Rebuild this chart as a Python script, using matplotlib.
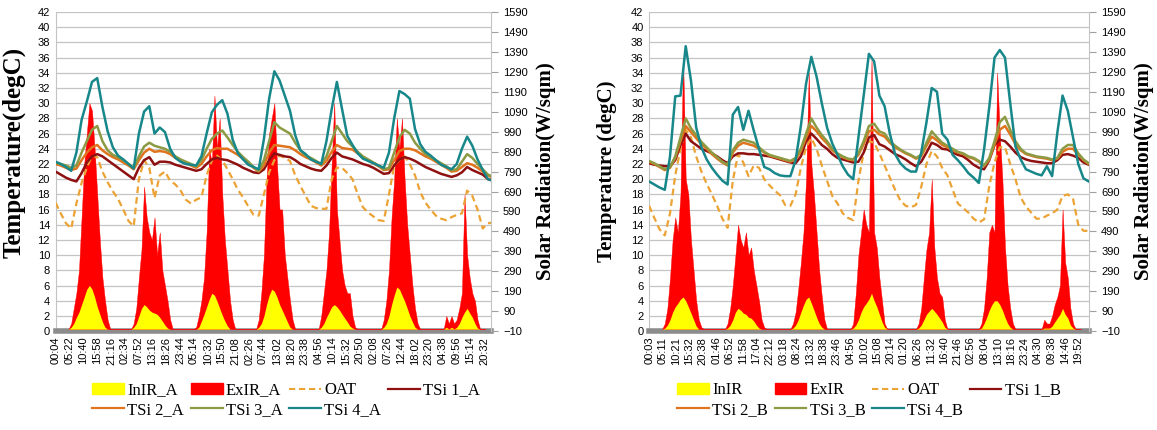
import matplotlib.pyplot as plt
import numpy as np
from matplotlib.patches import Patch
from matplotlib.lines import Line2D

# 2-hourly temperature readings, hour 0 .. 168
hours = np.arange(0, 170, 2)
# hourly solar readings in daytime, 05:00 .. 21:00
sun_hours = np.arange(5, 22)

# ---- Room A ----
oat_a = [16.9, 15.5, 14.2, 13.5, 16.8, 19.5, 21.5, 23.1, 22.9, 21.0, 19.6, 18.4,
         17.4, 16.0, 14.5, 13.8, 20.0, 22.5, 21.5, 17.5, 20.5, 21.0, 19.8, 19.3,
         18.5, 17.3, 16.8, 17.3, 17.6, 20.5, 22.5, 23.1, 22.5, 21.3, 20.0, 18.6,
         17.6, 16.4, 15.3, 15.2, 18.0, 20.9, 22.5, 23.1, 22.8, 22.4, 20.5, 19.1,
         17.8, 16.5, 16.2, 16.1, 16.1, 20.0, 21.5, 21.5, 20.8, 20.0, 18.0, 16.3,
         15.6, 15.1, 14.6, 14.5, 18.0, 21.8, 22.5, 23.0, 22.0, 20.5, 18.3, 16.9,
         16.0, 15.2, 14.8, 14.6, 15.0, 15.3, 15.5, 18.5, 17.8, 16.0, 13.5, 14.2, 14.3]
tsi1_a = [21.0, 20.6, 20.2, 19.9, 19.7, 20.8, 22.2, 23.0, 23.3, 23.0, 22.5, 22.0,
          21.5, 21.0, 20.5, 20.0, 21.5, 22.5, 22.9, 21.9, 22.3, 22.3, 22.2, 21.9,
          21.7, 21.5, 21.3, 21.1, 21.3, 22.0, 22.6, 22.8, 22.6, 22.5, 22.2, 21.9,
          21.5, 21.2, 20.9, 20.8, 21.3, 22.5, 23.4, 23.2, 23.0, 22.9, 22.5, 22.0,
          21.7, 21.4, 21.2, 21.1, 21.8, 22.8, 23.5, 23.0, 22.8, 22.6, 22.3, 22.0,
          21.8, 21.5, 21.1, 20.7, 20.8, 21.8, 22.6, 22.9, 22.7, 22.4, 22.0, 21.6,
          21.3, 21.0, 20.7, 20.5, 20.3, 20.5, 20.9, 21.6, 21.2, 20.9, 20.6, 20.0, 19.8]
tsi2_a = [22.0, 21.8, 21.5, 21.2, 21.4, 22.5, 23.5, 24.2, 24.5, 23.8, 23.3, 22.9,
          22.6, 22.2, 21.8, 21.3, 22.5, 23.5, 24.0, 23.6, 23.7, 23.6, 23.3, 22.8,
          22.4, 22.1, 21.8, 21.5, 22.0, 23.0, 23.8, 24.1, 24.0, 24.0, 23.6, 23.2,
          22.7, 22.1, 21.5, 21.0, 21.8, 23.5, 24.5, 24.4, 24.3, 24.2, 23.8, 23.3,
          22.9, 22.6, 22.2, 21.8, 22.4, 23.6, 24.5, 24.1, 24.0, 23.9, 23.4, 22.9,
          22.5, 22.1, 21.7, 21.2, 21.3, 22.5, 23.7, 24.0, 24.0, 23.8, 23.4, 23.0,
          22.7, 22.3, 21.9, 21.5, 21.0, 21.1, 21.6, 22.1, 21.9, 21.5, 21.0, 20.5, 20.2]
tsi3_a = [22.2, 22.0, 21.8, 21.5, 21.8, 23.5, 25.0, 26.5, 27.0, 25.0, 23.8, 23.2,
          22.9, 22.5, 22.0, 21.5, 23.0, 24.3, 24.8, 24.4, 24.2, 24.0, 23.6, 23.0,
          22.6, 22.3, 22.0, 21.7, 22.5, 24.0, 25.3, 26.0, 26.4, 25.5, 24.5, 23.6,
          22.9, 22.3, 21.6, 21.1, 22.5, 25.0, 27.5, 26.8, 26.4, 26.0, 24.8, 23.8,
          23.1, 22.8, 22.4, 22.0, 23.0, 25.0, 27.0, 26.0, 25.0, 24.3, 23.6, 23.0,
          22.6, 22.2, 21.8, 21.3, 21.5, 23.5, 25.5, 26.5, 26.0, 24.8, 24.0, 23.3,
          22.9, 22.5, 22.1, 21.7, 21.2, 21.3, 22.3, 23.3, 22.8, 22.0, 21.3, 20.6, 20.3]
tsi4_a = [22.3, 22.0, 21.6, 21.1, 23.5, 27.8, 30.2, 32.8, 33.3, 29.5, 26.3, 24.2,
          23.1, 22.6, 22.0, 21.4, 26.0, 28.9, 29.6, 26.0, 26.8, 26.2, 24.0, 22.8,
          22.3, 22.0, 21.9, 21.8, 23.0, 26.0, 28.8, 29.8, 30.4, 28.6, 25.2, 23.4,
          22.6, 21.9, 21.6, 21.3, 25.3, 30.6, 34.2, 33.0, 31.0, 29.0, 25.8, 23.8,
          23.3, 22.6, 22.3, 22.0, 25.0, 29.2, 32.8, 29.2, 25.7, 24.5, 23.4, 22.7,
          22.4, 22.1, 21.8, 21.5, 23.5, 28.0, 31.6, 31.2, 30.6, 26.6, 24.6, 23.6,
          23.1, 22.5, 21.9, 21.6, 21.3, 22.0, 24.0, 25.6, 24.4, 22.6, 21.2, 20.0, 19.8]
# W/sqm, one row per day (05:00 .. 21:00)
exir_a = [
    [0, 28, 104, 180, 295, 560, 828, 980, 1133, 1095, 905, 676, 447, 257, 142, 47, 0],
    [0, 28, 104, 257, 400, 714, 560, 485, 447, 560, 371, 485, 295, 219, 142, 47, 0],
    [0, 10, 66, 142, 257, 485, 905, 828, 1171, 905, 1057, 676, 447, 295, 142, 47, 0],
    [0, 47, 180, 371, 752, 980, 1057, 1133, 828, 600, 600, 371, 257, 142, 47, 0, 0],
    [0, 66, 180, 295, 485, 828, 1133, 600, 447, 295, 219, 180, 180, 66, 10, 0, 0],
    [0, 47, 142, 295, 560, 752, 1057, 905, 1057, 752, 523, 371, 219, 104, 28, 0, 0],
    [0, 66, 28, 66, 28, 47, 104, 180, 676, 371, 257, 180, 142, 47, 0, 0, 0],
]
inir_a = [
    [0, 9, 28, 59, 85, 123, 161, 200, 219, 200, 161, 112, 74, 36, 9, 0, 0],
    [0, 9, 28, 66, 104, 123, 112, 95, 85, 80, 74, 59, 40, 20, 5, 0, 0],
    [0, 0, 9, 40, 74, 112, 150, 180, 170, 140, 104, 70, 40, 15, 0, 0, 0],
    [0, 9, 28, 66, 123, 170, 200, 190, 161, 123, 95, 66, 36, 9, 0, 0, 0],
    [0, 9, 28, 59, 85, 112, 123, 112, 95, 74, 55, 36, 15, 5, 0, 0, 0],
    [0, 9, 28, 66, 123, 170, 211, 200, 170, 140, 104, 66, 36, 9, 0, 0, 0],
    [0, 9, 1, 9, 1, 9, 28, 59, 85, 104, 80, 59, 28, 5, 0, 0, 0],
]
labels_a = ["00:04", "05:22", "10:40", "15:58", "21:16", "02:34", "07:52", "13:16",
            "18:26", "23:44", "05:14", "10:32", "15:50", "21:08", "02:26", "07:44",
            "13:02", "18:20", "23:38", "04:56", "10:14", "15:32", "20:50", "02:08",
            "07:26", "12:44", "18:02", "23:20", "04:38", "09:56", "15:14", "20:32"]

# ---- Room B ----
oat_b = [16.5, 14.9, 13.4, 12.6, 15.5, 20.5, 24.0, 26.5, 25.5, 23.0, 21.0, 19.4,
         18.0, 16.5, 14.8, 13.6, 19.8, 23.3, 22.2, 20.4, 21.8, 21.5, 20.0, 19.2,
         18.5, 17.9, 16.6, 16.5, 18.0, 21.5, 24.2, 25.4, 24.0, 21.8, 19.8, 17.8,
         16.8, 15.5, 14.9, 14.6, 19.8, 23.5, 25.0, 24.8, 23.4, 21.8, 20.2, 18.6,
         17.2, 16.5, 16.3, 16.6, 19.0, 22.0, 23.7, 23.0, 21.5, 20.5, 18.6, 16.8,
         16.2, 15.6, 14.8, 14.3, 14.7, 19.1, 22.2, 24.2, 24.2, 22.0, 20.0, 17.6,
         16.4, 15.6, 14.8, 14.8, 15.2, 15.5, 16.0, 17.8, 18.0, 17.4, 14.0, 13.2, 13.2]
tsi1_b = [22.1, 21.9, 21.8, 21.7, 21.7, 22.5, 24.5, 26.0, 25.0, 24.5, 24.0, 23.7,
          23.4, 23.0, 22.5, 22.1, 23.0, 23.4, 23.4, 23.3, 23.3, 23.2, 23.1, 23.0,
          22.8, 22.6, 22.4, 22.2, 22.1, 23.0, 25.0, 26.0, 25.3, 24.5, 24.0, 23.3,
          22.8, 22.6, 22.4, 22.2, 22.3, 23.5, 25.5, 25.8, 24.6, 24.3, 23.8, 23.3,
          23.0, 22.6, 22.1, 21.7, 22.3, 23.5, 24.8, 24.5, 24.0, 23.9, 23.5, 23.2,
          23.0, 22.5, 21.9, 21.5, 21.3, 22.5, 24.5, 25.2, 25.0, 24.3, 23.5, 22.9,
          22.6, 22.4, 22.3, 22.2, 22.1, 22.1, 22.5, 23.2, 23.3, 23.1, 22.8, 22.2, 21.9]
tsi2_b = [22.3, 22.0, 21.6, 21.2, 21.5, 22.8, 25.0, 27.0, 26.2, 25.4, 24.6, 24.0,
          23.3, 22.7, 22.2, 21.8, 23.5, 24.4, 24.8, 24.6, 24.4, 24.0, 23.5, 23.1,
          22.9, 22.7, 22.5, 22.3, 22.6, 23.7, 25.5, 27.0, 26.3, 25.4, 24.7, 23.8,
          23.3, 22.9, 22.6, 22.5, 23.2, 24.6, 26.3, 26.5, 25.9, 25.6, 24.8, 24.2,
          23.8, 23.4, 23.1, 22.7, 23.0, 24.4, 25.6, 25.1, 24.5, 24.2, 23.8, 23.5,
          23.3, 22.9, 22.7, 22.3, 21.7, 22.6, 24.6, 26.5, 27.0, 25.9, 24.6, 23.8,
          23.3, 23.1, 22.9, 22.8, 22.7, 22.5, 22.7, 23.6, 24.0, 24.0, 23.2, 22.5, 22.0]
tsi3_b = [22.4, 22.1, 21.7, 21.3, 21.6, 23.0, 25.5, 28.0, 26.7, 25.8, 24.9, 24.2,
          23.5, 22.9, 22.3, 21.9, 23.8, 24.8, 25.2, 25.0, 24.8, 24.2, 23.6, 23.2,
          23.0, 22.8, 22.6, 22.4, 22.8, 24.0, 26.0, 28.0, 26.8, 25.8, 25.0, 24.0,
          23.4, 23.0, 22.7, 22.6, 23.4, 25.0, 27.0, 27.3, 26.3, 26.0, 25.0, 24.4,
          23.9, 23.5, 23.2, 22.8, 23.2, 24.8, 26.3, 25.5, 24.8, 24.4, 24.0, 23.6,
          23.4, 23.0, 22.8, 22.4, 21.8, 22.8, 25.0, 27.5, 28.2, 26.5, 25.0, 24.0,
          23.4, 23.2, 23.0, 22.9, 22.8, 22.6, 22.8, 24.0, 24.5, 24.5, 23.4, 22.6, 22.1]
tsi4_b = [19.7, 19.3, 18.9, 18.6, 23.0, 30.9, 31.0, 37.5, 33.0, 26.8, 24.2, 22.6,
          21.5, 20.6, 19.8, 19.3, 28.5, 29.5, 26.5, 29.0, 26.4, 24.0, 21.6, 21.3,
          20.8, 20.5, 20.4, 20.4, 22.5, 27.0, 32.6, 36.1, 33.5, 30.0, 26.8, 24.7,
          23.2, 21.7, 20.6, 20.0, 25.5, 31.0, 36.5, 35.5, 31.0, 29.6, 26.0, 23.3,
          22.1, 21.4, 21.0, 21.0, 23.5, 27.5, 32.0, 31.5, 26.0, 25.2, 23.2, 22.5,
          21.7, 20.8, 20.2, 19.5, 23.9, 29.5, 36.0, 37.0, 36.0, 30.0, 24.3, 22.6,
          21.3, 21.0, 20.7, 20.5, 21.7, 20.4, 26.1, 31.0, 29.0, 25.5, 22.0, 20.1, 19.7]
exir_b = [
    [0, 28, 104, 257, 447, 560, 485, 676, 1362, 752, 676, 447, 295, 142, 47, 9, 0],
    [0, 28, 104, 219, 371, 523, 447, 409, 485, 371, 409, 295, 219, 142, 47, 9, 0],
    [0, 0, 28, 85, 200, 333, 485, 752, 1286, 828, 676, 485, 295, 161, 47, 0, 0],
    [0, 28, 180, 371, 485, 600, 523, 485, 1362, 485, 409, 257, 142, 28, 0, 0, 0],
    [0, 0, 28, 104, 257, 400, 485, 752, 409, 257, 180, 161, 47, 0, 0, 0, 0],
    [0, 0, 28, 104, 257, 485, 523, 485, 1286, 981, 752, 409, 219, 104, 28, 0, 0],
    [0, 0, 47, 28, 28, 66, 123, 161, 219, 600, 333, 257, 104, 28, 0, 0, 0],
]
inir_b = [
    [0, 5, 20, 47, 85, 112, 130, 150, 161, 142, 112, 80, 47, 15, 0, 0, 0],
    [0, 5, 20, 47, 85, 104, 95, 80, 74, 59, 55, 40, 20, 5, 0, 0, 0],
    [0, 0, 5, 20, 47, 85, 120, 150, 161, 130, 95, 59, 28, 9, 0, 0, 0],
    [0, 5, 20, 47, 85, 112, 130, 150, 180, 142, 112, 74, 36, 9, 0, 0, 0],
    [0, 0, 5, 20, 47, 74, 90, 104, 90, 74, 55, 36, 9, 0, 0, 0, 0],
    [0, 0, 5, 28, 59, 95, 123, 142, 142, 123, 95, 59, 28, 9, 0, 0, 0],
    [0, 0, 5, 5, 5, 15, 36, 55, 74, 104, 74, 55, 20, 5, 0, 0, 0],
]
labels_b = ["00:03", "05:11", "10:21", "15:32", "20:38", "01:46", "06:52", "11:58",
            "17:04", "22:12", "03:18", "08:24", "13:32", "18:38", "23:46", "04:56",
            "10:02", "15:08", "20:14", "01:20", "06:26", "11:32", "16:40", "21:46",
            "02:56", "08:04", "13:10", "18:16", "23:24", "04:30", "09:38", "14:46",
            "19:52"]

C_IN = "#FFFF00"
C_EX = "#FF0000"
C_OAT = "#EBA335"
C_T1 = "#8E1010"
C_T2 = "#E0741E"
C_T3 = "#8C9A43"
C_T4 = "#17878A"
SERIF = "Liberation Serif"
SANS = "Liberation Sans"


def daily(rows):
    t, v = [], []
    for d, vals in enumerate(rows):
        t.extend(d * 24 + sun_hours)
        v.extend(vals)
    return np.array(t), np.array(v)


def panel(ax, oat, t1, t2, t3, t4, exir, inir, labels, tick_span, xmax,
          names, ylabel, ysize, ylab_pos, legend_x):
    axr = ax.twinx()
    axl = ax.twinx()
    ax.set_zorder(1)
    axr.set_zorder(2)
    axl.set_zorder(3)
    axr.patch.set_visible(False)
    axl.patch.set_visible(False)

    # grid and left scale
    ax.set_ylim(0, 42)
    ax.set_yticks(np.arange(0, 43, 2))
    ax.grid(axis="y", color="#C4C4C4", lw=0.9)
    ax.tick_params(axis="y", length=0, labelsize=8, pad=4)
    ax.set_xlim(0, xmax)
    ax.set_xticks(np.linspace(tick_span[0], tick_span[1], len(labels)))
    ax.set_xticklabels(labels, rotation=90, fontsize=8, family=SANS)
    ax.tick_params(axis="x", length=0, pad=4)
    for lab in ax.get_yticklabels():
        lab.set_family(SANS)
    ax.spines["top"].set_visible(False)
    ax.spines["right"].set_visible(False)
    ax.spines["left"].set_color("#C4C4C4")
    ax.spines["bottom"].set_color("#8C8C8C")
    ax.spines["bottom"].set_linewidth(4)
    ax.set_ylabel(ylabel, family=SERIF, fontweight="bold", fontsize=ysize)
    ax.yaxis.set_label_coords(*ylab_pos)

    # solar radiation areas
    tx, vx = daily(exir)
    ti, vi = daily(inir)
    axr.fill_between(tx, 0, vx, color=C_EX, lw=0.3, edgecolor=C_EX)
    axr.fill_between(ti, 0, vi, color=C_IN, lw=0)
    axr.set_ylim(-10, 1590)
    axr.set_yticks(np.arange(-10, 1591, 100))
    axr.tick_params(axis="y", length=5, color="#A0A0A0", labelsize=8, pad=4)
    for lab in axr.get_yticklabels():
        lab.set_family(SANS)
    for s in ["top", "bottom", "left"]:
        axr.spines[s].set_visible(False)
    axr.spines["right"].set_color("#C4C4C4")
    axr.set_ylabel("Solar Radiation(W/sqm)", family=SERIF, fontweight="bold",
                   fontsize=15, labelpad=6)

    # temperature lines
    axl.plot(hours, oat, color=C_OAT, lw=1.6, ls=(0, (3, 1.8)))
    axl.plot(hours, t1, color=C_T1, lw=1.8)
    axl.plot(hours, t2, color=C_T2, lw=1.8)
    axl.plot(hours, t3, color=C_T3, lw=1.8)
    axl.plot(hours, t4, color=C_T4, lw=1.8)
    axl.set_ylim(0, 42)
    axl.set_yticks([])
    for s in axl.spines.values():
        s.set_visible(False)

    h = {
        "in": Patch(color=C_IN),
        "ex": Patch(color=C_EX),
        "oat": Line2D([], [], color=C_OAT, lw=1.5, ls=(0, (3, 1.8))),
        "t1": Line2D([], [], color=C_T1, lw=1.6),
        "t2": Line2D([], [], color=C_T2, lw=1.6),
        "t3": Line2D([], [], color=C_T3, lw=1.6),
        "t4": Line2D([], [], color=C_T4, lw=1.6),
    }
    order = ["in", "t2", "ex", "t3", "oat", "t4", "t1"]
    axl.legend([h[k] for k in order], [names[k] for k in order], ncol=4,
               loc="upper center", bbox_to_anchor=(legend_x, -0.14),
               frameon=False, prop={"family": SERIF, "size": 12},
               handlelength=1.9, handletextpad=0.2, columnspacing=0.4,
               labelspacing=0.2, borderaxespad=0)


fig = plt.figure(figsize=(11.57, 4.30), dpi=100)
ax_a = fig.add_axes([0.048, 0.23, 0.376, 0.742])
ax_b = fig.add_axes([0.561, 0.23, 0.380, 0.742])

panel(ax_a, oat_a, tsi1_a, tsi2_a, tsi3_a, tsi4_a, exir_a, inir_a, labels_a,
      (0.07, 164.5), 167,
      {"in": "InIR_A", "ex": "ExIR_A", "oat": "OAT", "t1": "TSi 1_A",
       "t2": "TSi 2_A", "t3": "TSi 3_A", "t4": "TSi 4_A"},
      "Temperature(degC)", 18, (-0.068, 0.56), 0.53)
panel(ax_b, oat_b, tsi1_b, tsi2_b, tsi3_b, tsi4_b, exir_b, inir_b, labels_b,
      (0.05, 163.9), 168,
      {"in": "InIR", "ex": "ExIR", "oat": "OAT", "t1": "TSi 1_B",
       "t2": "TSi 2_B", "t3": "TSi 3_B", "t4": "TSi 4_B"},
      "Temperature (degC)", 15, (-0.072, 0.5), 0.5)

fig.savefig("out.png", dpi=100)
